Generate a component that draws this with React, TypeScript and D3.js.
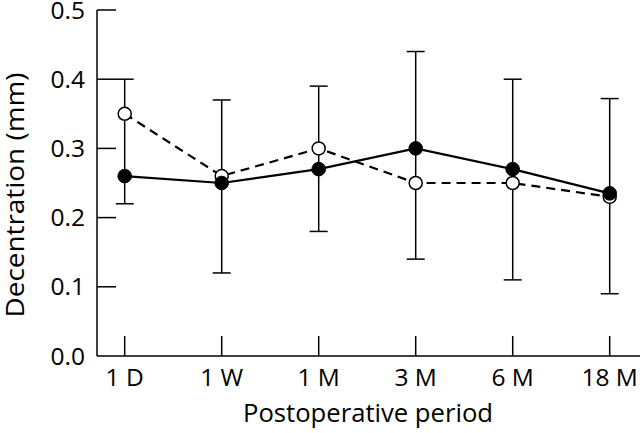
import React from "react";
import * as d3 from "d3";

const categories = ["1 D", "1 W", "1 M", "3 M", "6 M", "18 M"];
const filledValues = [0.26, 0.25, 0.27, 0.30, 0.27, 0.235];
const openValues = [0.35, 0.26, 0.30, 0.25, 0.25, 0.23];
const errUpper = [0.40, 0.37, 0.39, 0.44, 0.40, 0.372];
const errLower = [0.22, 0.12, 0.18, 0.14, 0.11, 0.09];
const yTicks = [0.0, 0.1, 0.2, 0.3, 0.4, 0.5];

const W = 640;
const H = 433;
const FONT = "'Open Sans', sans-serif";

export default function App() {
  const x0 = 97;
  const yScale = d3.scaleLinear().domain([0, 0.5]).range([356, 10]);
  const xScale = d3.scalePoint<string>().domain(categories).range([124.7, 609.7]);

  const line = d3
    .line<number>()
    .x((_, i) => xScale(categories[i]) as number)
    .y((d) => yScale(d));

  return (
    <svg
      width={W}
      height={H}
      style={{ position: "absolute", left: 0, top: 0, background: "#fff" }}
    >
      {/* axes */}
      <line x1={x0} x2={x0} y1={yScale(0.5)} y2={yScale(0)} stroke="#000" strokeWidth={1.5} />
      <line x1={x0} x2={W} y1={yScale(0)} y2={yScale(0)} stroke="#000" strokeWidth={1.5} />
      {yTicks.map((t) => (
        <g key={t}>
          {t > 0 && (
            <line x1={x0} x2={x0 + 19} y1={yScale(t)} y2={yScale(t)} stroke="#000" strokeWidth={1.5} />
          )}
          <text
            x={85}
            y={yScale(t) + 8.5}
            textAnchor="end"
            fontFamily={FONT}
            fontSize={24.5}
            fill="#000"
          >
            {t.toFixed(1)}
          </text>
        </g>
      ))}
      {categories.map((c) => (
        <g key={c}>
          <line
            x1={xScale(c)}
            x2={xScale(c)}
            y1={yScale(0)}
            y2={yScale(0) - 20}
            stroke="#000"
            strokeWidth={1.5}
          />
          <text
            x={xScale(c)}
            y={386}
            textAnchor="middle"
            fontFamily={FONT}
            fontSize={24.5}
            fill="#000"
          >
            {c}
          </text>
        </g>
      ))}
      <text
        x={368}
        y={422}
        textAnchor="middle"
        fontFamily={FONT}
        fontSize={25}
        textLength={250}
        lengthAdjust="spacingAndGlyphs"
        fill="#000"
      >
        Postoperative period
      </text>
      <text
        transform={`translate(24,195) rotate(-90)`}
        textAnchor="middle"
        fontFamily={FONT}
        fontSize={25}
        textLength={245}
        lengthAdjust="spacingAndGlyphs"
        fill="#000"
      >
        Decentration (mm)
      </text>

      {/* error bars */}
      {categories.map((c, i) => {
        const cx = xScale(c) as number;
        return (
          <g key={"e" + c} stroke="#000" strokeWidth={1.5}>
            <line x1={cx} x2={cx} y1={yScale(errUpper[i])} y2={yScale(errLower[i])} />
            <line x1={cx - 9} x2={cx + 9} y1={yScale(errUpper[i])} y2={yScale(errUpper[i])} />
            <line x1={cx - 9} x2={cx + 9} y1={yScale(errLower[i])} y2={yScale(errLower[i])} />
          </g>
        );
      })}

      {/* lines */}
      <path d={line(openValues) || ""} fill="none" stroke="#000" strokeWidth={2.2} strokeDasharray="9,6" />
      <path d={line(filledValues) || ""} fill="none" stroke="#000" strokeWidth={2.2} />

      {/* points */}
      {openValues.map((v, i) => (
        <circle
          key={"o" + i}
          cx={xScale(categories[i])}
          cy={yScale(v)}
          r={6.5}
          fill="#fff"
          stroke="#000"
          strokeWidth={1.5}
        />
      ))}
      {filledValues.map((v, i) => (
        <circle
          key={"f" + i}
          cx={xScale(categories[i])}
          cy={yScale(v)}
          r={6.8}
          fill="#000"
          stroke="#000"
          strokeWidth={1}
        />
      ))}
    </svg>
  );
}
